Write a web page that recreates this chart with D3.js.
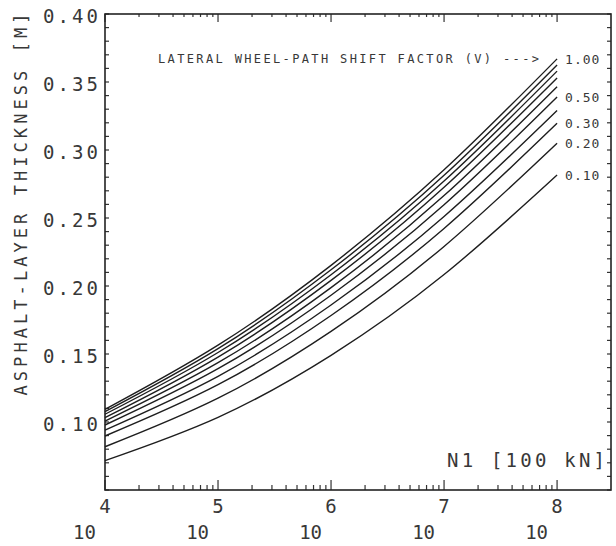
<!DOCTYPE html>
<html>
<head>
<meta charset="utf-8">
<title>Asphalt-layer thickness vs N1</title>
<style>
    body { margin: 0; background: #fff; }
    svg text {
        font-family: "DejaVu Sans Mono", "Liberation Mono", monospace;
        fill: #383838;
    }
    .frame { fill: none; stroke: #222; stroke-width: 1.6px; }
    .tick { stroke: #333; stroke-width: 1.2px; }
    .curve { fill: none; stroke: #1e1e1e; stroke-width: 1.4px; }
</style>
</head>
<body>
<script src="https://cdn.jsdelivr.net/npm/d3@7"></script>
<script>

var W = 616, H = 546;

// lateral wheel-path shift factor V, one curve each (top to bottom)
var shiftFactors = [1.00, 0.90, 0.80, 0.70, 0.60, 0.50, 0.40, 0.30, 0.20, 0.10];
// N1 values the thickness is read at
var loadCycles = [1e4, 1e5, 1e6, 1e7, 1e8];
// asphalt-layer thickness [m] per curve, at the loadCycles above
var thickness = [
    [0.1093, 0.1565, 0.2152, 0.2854, 0.3670],
    [0.1076, 0.1539, 0.2119, 0.2814, 0.3625],
    [0.1057, 0.1511, 0.2083, 0.2772, 0.3580],
    [0.1032, 0.1477, 0.2041, 0.2726, 0.3530],
    [0.1007, 0.1436, 0.1988, 0.2665, 0.3465],
    [0.0978, 0.1392, 0.1932, 0.2598, 0.3390],
    [0.0941, 0.1336, 0.1860, 0.2511, 0.3290],
    [0.0897, 0.1274, 0.1783, 0.2423, 0.3196],
    [0.0818, 0.1175, 0.1666, 0.2291, 0.3050],
    [0.0716, 0.1034, 0.1490, 0.2084, 0.2816]
];
var labelledFactors = [1.00, 0.50, 0.30, 0.20, 0.10];
var yTickValues = [0.10, 0.15, 0.20, 0.25, 0.30, 0.35, 0.40];
var xExponents = [4, 5, 6, 7, 8];

var mLeft = 105, mRight = 611, mTop = 14, mBottom = 490;

var x = d3.scaleLog().domain([1e4, 3e8]).range([mLeft, mRight]);
var y = d3.scaleLinear().domain([0.05, 0.40]).range([mBottom, mTop]);

var svg = d3.select("body").append("svg")
        .attr("width", W)
        .attr("height", H);

// minor/major ticks on all four sides, pointing inwards
var yMinor = d3.range(0.05, 0.4001, 0.01);
svg.selectAll(".ytickL").data(yMinor).enter().append("line")
        .attr("class", "tick")
        .attr("x1", mLeft).attr("x2", mLeft + 4)
        .attr("y1", function(d) { return y(d); })
        .attr("y2", function(d) { return y(d); });
svg.selectAll(".ytickR").data(yMinor).enter().append("line")
        .attr("class", "tick")
        .attr("x1", mRight).attr("x2", mRight - 4)
        .attr("y1", function(d) { return y(d); })
        .attr("y2", function(d) { return y(d); });

var xTicks = [];
for (var e = 4; e < 8; e++) {
    for (var m = 1; m < 10; m++) xTicks.push(m * Math.pow(10, e));
}
xTicks.push(1e8);
function tickLen(d) {
    var l = Math.log10(d);
    return Math.abs(l - Math.round(l)) < 1e-9 ? 10 : 5;
}
svg.selectAll(".xtickB").data(xTicks).enter().append("line")
        .attr("class", "tick")
        .attr("x1", function(d) { return x(d); })
        .attr("x2", function(d) { return x(d); })
        .attr("y1", mBottom)
        .attr("y2", function(d) { return mBottom - tickLen(d); });
svg.selectAll(".xtickT").data(xTicks).enter().append("line")
        .attr("class", "tick")
        .attr("x1", function(d) { return x(d); })
        .attr("x2", function(d) { return x(d); })
        .attr("y1", mTop)
        .attr("y2", function(d) { return mTop + tickLen(d) - 2; });

// frame
svg.append("rect")
        .attr("class", "frame")
        .attr("x", mLeft).attr("y", mTop)
        .attr("width", mRight - mLeft).attr("height", mBottom - mTop);

// y tick labels
svg.selectAll(".ylab").data(yTickValues).enter().append("text")
        .attr("x", mLeft - 7)
        .attr("y", function(d) { return y(d) + 9; })
        .attr("text-anchor", "end")
        .attr("font-size", 19)
        .attr("textLength", 55)
        .attr("lengthAdjust", "spacing")
        .text(function(d) { return d3.format(".2f")(d); });

// x tick labels: 10 with exponent
svg.selectAll(".xlab10").data(xExponents).enter().append("text")
        .attr("x", function(d) { return x(Math.pow(10, d)) - 9; })
        .attr("y", 539)
        .attr("text-anchor", "end")
        .attr("font-size", 19)
        .text("10");
svg.selectAll(".xlabExp").data(xExponents).enter().append("text")
        .attr("x", function(d) { return x(Math.pow(10, d)); })
        .attr("y", 513)
        .attr("text-anchor", "middle")
        .attr("font-size", 19)
        .text(function(d) { return d; });

// axis titles
svg.append("text")
        .attr("transform", "translate(27," + ((mTop + 395) / 2) + ") rotate(-90)")
        .attr("text-anchor", "middle")
        .attr("font-size", 17)
        .attr("textLength", 382)
        .attr("lengthAdjust", "spacing")
        .text("ASPHALT-LAYER THICKNESS [M]");

svg.append("text")
        .attr("x", 447)
        .attr("y", 467)
        .attr("font-size", 19)
        .attr("textLength", 158)
        .attr("lengthAdjust", "spacing")
        .text("N1 [100 kN]");

svg.append("text")
        .attr("x", 158)
        .attr("y", 63)
        .attr("font-size", 12)
        .attr("textLength", 381)
        .attr("lengthAdjust", "spacing")
        .text("LATERAL WHEEL-PATH SHIFT FACTOR (V) --->");

// curves
var line = d3.line()
        .x(function(d, i) { return x(loadCycles[i]); })
        .y(function(d) { return y(d); })
        .curve(d3.curveNatural);

svg.selectAll(".curve").data(thickness).enter().append("path")
        .attr("class", "curve")
        .attr("d", line);

// curve labels at the right end
svg.selectAll(".vlab").data(labelledFactors).enter().append("text")
        .attr("x", x(1e8) + 8)
        .attr("y", function(d) {
            var row = thickness[shiftFactors.indexOf(d)];
            return y(row[row.length - 1]) + 5;
        })
        .attr("font-size", 13)
        .attr("letter-spacing", 1)
        .text(function(d) { return d3.format(".2f")(d); });

</script>
</body>
</html>
